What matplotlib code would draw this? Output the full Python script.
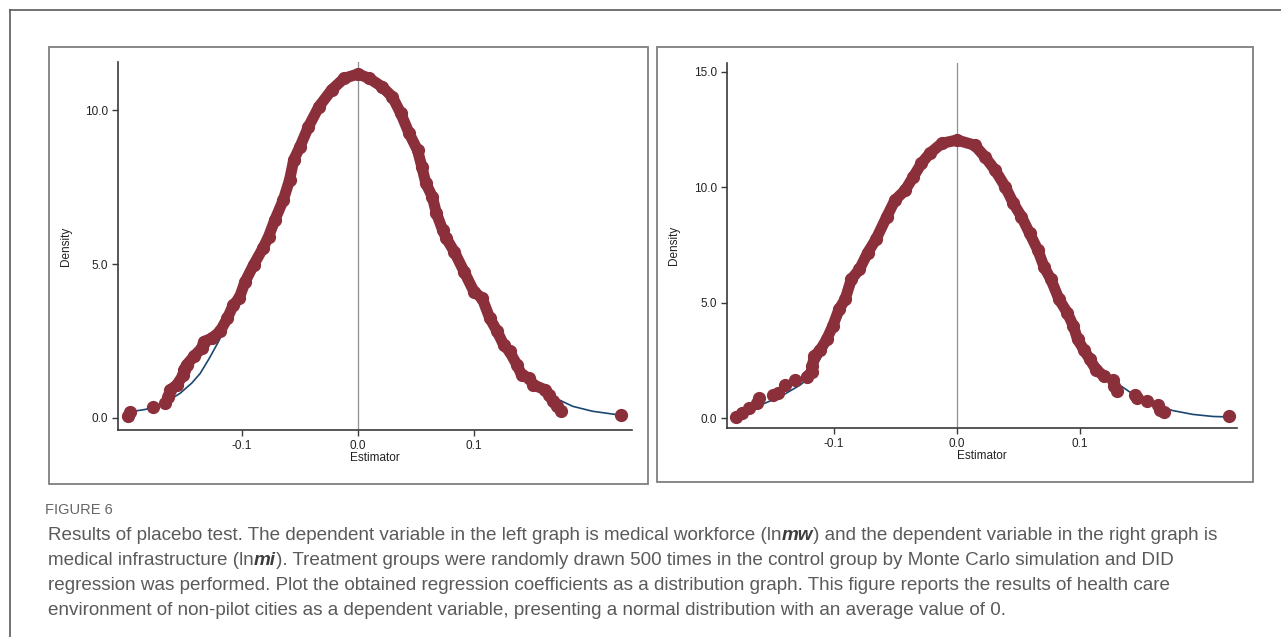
import matplotlib
matplotlib.use("Agg")
import matplotlib.pyplot as plt
from matplotlib.lines import Line2D
from matplotlib.patches import Rectangle

# ---- left panel (ln mw) ----
left_body_x = [-0.1635, -0.1620, -0.1563, -0.1506, -0.1500, -0.1476, -0.1415, -0.1347,
               -0.1330, -0.1260, -0.1190, -0.1126, -0.1075, -0.1024, -0.0973, -0.0900,
               -0.0820, -0.0771, -0.0717, -0.0644, -0.0590, -0.0554, -0.0500, -0.0427,
               -0.0337, -0.0228, -0.0120, 0.0000, 0.0097, 0.0206, 0.0296, 0.0369,
               0.0441, 0.0513, 0.0550, 0.0585, 0.0640, 0.0676, 0.0730, 0.0762,
               0.0830, 0.0915, 0.1000, 0.1070, 0.1136, 0.1200, 0.1255, 0.1306,
               0.1370, 0.1410, 0.1476, 0.1510, 0.1610, 0.1646, 0.1680, 0.1714, 0.1748]
left_body_y = [0.69, 0.91, 1.07, 1.40, 1.57, 1.73, 2.00, 2.27,
               2.48, 2.59, 2.81, 3.24, 3.67, 3.89, 4.43, 4.97,
               5.51, 5.89, 6.43, 7.08, 7.73, 8.38, 8.81, 9.46,
               10.11, 10.65, 11.03, 11.17, 11.03, 10.76, 10.43, 9.89,
               9.24, 8.70, 8.16, 7.62, 7.19, 6.65, 6.10, 5.83,
               5.40, 4.75, 4.10, 3.89, 3.24, 2.81, 2.38, 2.16,
               1.73, 1.40, 1.30, 1.08, 0.92, 0.76, 0.54, 0.38, 0.24]
left_tail_x = [-0.1980, -0.1966, -0.1770, -0.1660, 0.2265]
left_tail_y = [0.05, 0.20, 0.35, 0.48, 0.09]
left_norm_x = [-0.1966, -0.1830, -0.1765, -0.1650, -0.1534, -0.1434, -0.1360, -0.1280,
               -0.1200, -0.1100, -0.1000, -0.0900, -0.0800, -0.0700, -0.0600, -0.0500,
               -0.0400, -0.0300, -0.0200, -0.0100, 0.0000, 0.0100, 0.0200, 0.0300,
               0.0400, 0.0500, 0.0600, 0.0700, 0.0800, 0.0900, 0.1000, 0.1100,
               0.1200, 0.1300, 0.1400, 0.1500, 0.1600, 0.1700, 0.1850, 0.2020,
               0.2190, 0.2265]
left_norm_y = [0.20, 0.28, 0.37, 0.53, 0.80, 1.13, 1.45, 1.95,
               2.50, 3.30, 4.10, 5.00, 5.90, 6.90, 7.80, 8.70,
               9.50, 10.20, 10.75, 11.05, 11.15, 11.05, 10.75, 10.20,
               9.50, 8.60, 7.70, 6.70, 5.80, 4.90, 4.10, 3.40,
               2.75, 2.15, 1.65, 1.25, 0.92, 0.65, 0.38, 0.22,
               0.13, 0.09]

# ---- right panel (ln mi) ----
right_body_x = [-0.1222, -0.1181, -0.1177, -0.1160, -0.1110, -0.1060, -0.1010, -0.0960,
                -0.0910, -0.0860, -0.0793, -0.0726, -0.0659, -0.0571, -0.0504, -0.0421,
                -0.0355, -0.0289, -0.0222, -0.0123, 0.0000, 0.0143, 0.0226, 0.0309,
                0.0392, 0.0458, 0.0524, 0.0590, 0.0657, 0.0707, 0.0763, 0.0830,
                0.0896, 0.0946, 0.0980, 0.1030, 0.1080, 0.1130, 0.1197]
right_body_y = [1.79, 2.00, 2.25, 2.68, 2.97, 3.41, 3.99, 4.71,
                5.14, 6.01, 6.45, 7.17, 7.75, 8.73, 9.45, 9.88,
                10.46, 11.04, 11.47, 11.91, 12.05, 11.83, 11.33, 10.75,
                10.03, 9.31, 8.73, 8.01, 7.28, 6.56, 6.01, 5.14,
                4.57, 3.99, 3.41, 2.97, 2.54, 2.10, 1.81]
right_tail_x = [-0.1797, -0.1750, -0.1689, -0.1629, -0.1610, -0.1493, -0.1453, -0.1398,
                -0.1317, 0.1264, 0.1280, 0.1298, 0.1448, 0.1465, 0.1548, 0.1632,
                0.1649, 0.1682, 0.2211]
right_tail_y = [0.06, 0.23, 0.42, 0.64, 0.85, 1.00, 1.10, 1.43,
                1.65, 1.67, 1.38, 1.16, 1.01, 0.87, 0.72, 0.58,
                0.36, 0.25, 0.10]
right_norm_x = [-0.1797, -0.1760, -0.1600, -0.1439, -0.1276, -0.1209, -0.1130, -0.1050,
                -0.0950, -0.0850, -0.0750, -0.0650, -0.0550, -0.0450, -0.0350, -0.0250,
                -0.0150, -0.0050, 0.0050, 0.0150, 0.0250, 0.0350, 0.0450, 0.0550,
                0.0650, 0.0750, 0.0850, 0.0950, 0.1060, 0.1180, 0.1298, 0.1415,
                0.1580, 0.1750, 0.1916, 0.2080, 0.2211]
right_norm_y = [0.08, 0.22, 0.56, 0.92, 1.43, 1.72, 2.40, 3.20,
                4.30, 5.60, 6.80, 8.00, 9.10, 10.00, 10.80, 11.40,
                11.80, 12.00, 12.00, 11.80, 11.30, 10.60, 9.70, 8.60,
                7.50, 6.30, 5.10, 4.00, 2.97, 2.10, 1.52, 1.09,
                0.65, 0.33, 0.16, 0.07, 0.05]

left_yticks = [0.0, 5.0, 10.0]
right_yticks = [0.0, 5.0, 10.0, 15.0]
xticks = [-0.1, 0.0, 0.1]
xtick_labels = ["-0.1", "0.0", "0.1"]

caption_title = "FIGURE 6"
caption_lines = [
    [("Results of placebo test. The dependent variable in the left graph is medical workforce (ln", False),
     ("mw", True),
     (") and the dependent variable in the right graph is", False)],
    [("medical infrastructure (ln", False), ("mi", True),
     ("). Treatment groups were randomly drawn 500 times in the control group by Monte Carlo simulation and DID", False)],
    [("regression was performed. Plot the obtained regression coefficients as a distribution graph. This figure reports the results of health care", False)],
    [("environment of non-pilot cities as a dependent variable, presenting a normal distribution with an average value of 0.", False)],
]

RED = "#8b2f3b"
BLUE = "#1a476f"
W, H = 1281, 637

plt.rcParams["axes.unicode_minus"] = False
plt.rcParams["font.family"] = ["Liberation Sans", "DejaVu Sans"]

fig = plt.figure(figsize=(W / 100, H / 100), dpi=100)


def px_axes(x0, x1, ytop, ybot):
    return fig.add_axes([x0 / W, 1 - ybot / H, (x1 - x0) / W, (ybot - ytop) / H])


def fig_line(xs, ys, **kw):
    fig.add_artist(Line2D([x / W for x in xs], [1 - y / H for y in ys],
                          transform=fig.transFigure, **kw))


# outer frame (open to the right and bottom)
fig_line([10, 10], [10, 700], color="#5a5a5a", lw=1.2)
fig_line([10, 1400], [10, 10], color="#5a5a5a", lw=1.2)

# panel boxes
for (x0, y0, x1, y1) in [(49, 47, 648, 484), (657, 47, 1253, 482)]:
    fig.add_artist(Rectangle((x0 / W, 1 - y1 / H), (x1 - x0) / W, (y1 - y0) / H,
                             transform=fig.transFigure, fill=False,
                             edgecolor="#7f7f7f", lw=1.3))


def draw_panel(ax, body_x, body_y, tail_x, tail_y, norm_x, norm_y, yticks, xlim, ylim):
    ax.axvline(0, color="#8f8f8f", lw=0.9, zorder=1)
    ax.plot(norm_x, norm_y, color=BLUE, lw=1.2, zorder=2)
    ax.plot(body_x, body_y, color=RED, lw=8.0, marker="o", ms=8.5,
            solid_capstyle="round", solid_joinstyle="round", zorder=3)
    ax.plot(tail_x, tail_y, "o", color=RED, ms=8.5, zorder=3)
    ax.set_xlim(*xlim)
    ax.set_ylim(*ylim)
    ax.set_xticks(xticks)
    ax.set_xticklabels(xtick_labels)
    ax.set_yticks(yticks)
    ax.set_yticklabels(["%.1f" % v for v in yticks])
    for s in ["top", "right"]:
        ax.spines[s].set_visible(False)
    for s in ["left", "bottom"]:
        ax.spines[s].set_color("#3a3a3a")
        ax.spines[s].set_linewidth(1.2)
    ax.tick_params(length=4, width=1, color="#3a3a3a", labelsize=8.5,
                   labelcolor="#222222", pad=3)
    ax.set_xlabel("Estimator", fontsize=8.5, color="#222222", labelpad=0)
    ax.set_ylabel("Density", fontsize=8.5, color="#222222")
    ax.patch.set_alpha(0)


axl = px_axes(118, 632, 62, 430)
draw_panel(axl, left_body_x, left_body_y, left_tail_x, left_tail_y,
           left_norm_x, left_norm_y, left_yticks, (-0.2069, 0.2362), (-0.39, 11.56))
axl.yaxis.set_label_coords(-0.09, 0.5)

axr = px_axes(727, 1237, 63, 428)
draw_panel(axr, right_body_x, right_body_y, right_tail_x, right_tail_y,
           right_norm_x, right_norm_y, right_yticks, (-0.187, 0.2276), (-0.43, 15.39))
axr.yaxis.set_label_coords(-0.092, 0.5)

# caption
cap_font = ["Liberation Sans", "DejaVu Sans"]
fig.text(45 / W, 1 - 514 / H, caption_title, fontsize=10.5, color="#666666",
         family=cap_font, va="baseline")

renderer = fig.canvas.get_renderer()
line_y = [540, 565, 590, 615]
for yb, pieces in zip(line_y, caption_lines):
    x = 48
    for s, bold in pieces:
        t = fig.text(x / W, 1 - yb / H, s, fontsize=13.6, family=cap_font,
                     color="#3d3d3d" if bold else "#5a5a5a",
                     fontweight="bold" if bold else "normal",
                     fontstyle="italic" if bold else "normal", va="baseline")
        x += t.get_window_extent(renderer).width

fig.savefig("out.png", dpi=100)
